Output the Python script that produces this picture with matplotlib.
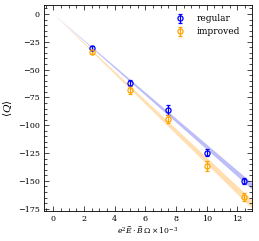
import matplotlib

matplotlib.use('Agg')
import matplotlib.pyplot as plt
import numpy as np
from matplotlib.ticker import MultipleLocator

# --- data ---
x_vals = [2.5, 5.0, 7.5, 10.0, 12.45]

regular_q = [-30.8, -62.1, -86.6, -124.8, -150.2]
regular_err = [1.8, 2.8, 4.5, 3.0, 3.0]

improved_q = [-34.3, -68.1, -94.4, -136.8, -164.6]
improved_err = [2.0, 3.5, 3.5, 4.5, 3.7]

# linear fits through the origin (slope, slope error)
regular_fit = (-11.95, 0.22)
improved_fit = (-13.2, 0.3)

plt.rcParams['font.family'] = ['DejaVu Serif']
plt.rcParams['mathtext.fontset'] = 'dejavuserif'
plt.rcParams['font.size'] = 5.5

fig = plt.figure(figsize=(2.59, 2.41), dpi=100)
ax = fig.add_axes([0.170, 0.125, 0.802, 0.854])

xx = np.linspace(0, 13.2, 50)
for (m, dm), col in [(regular_fit, '#9a9af5'), (improved_fit, '#ffcf88')]:
    ax.fill_between(xx, (m - dm) * xx, (m + dm) * xx, color=col,
                    alpha=0.65, linewidth=0)

ax.errorbar(x_vals, regular_q, yerr=regular_err, fmt='o', color='blue',
            mfc='none', ms=3.7, mew=0.9, elinewidth=0.9, capsize=1.3,
            label='regular', zorder=3)
ax.errorbar(x_vals, improved_q, yerr=improved_err, fmt='o', color='orange',
            mfc='none', ms=3.7, mew=0.9, elinewidth=0.9, capsize=1.3,
            label='improved', zorder=3)

ax.set_xlim(-0.6, 12.93)
ax.set_ylim(-177, 8)
ax.xaxis.set_major_locator(MultipleLocator(2))
ax.xaxis.set_minor_locator(MultipleLocator(0.5))
ax.yaxis.set_major_locator(MultipleLocator(25))
ax.yaxis.set_minor_locator(MultipleLocator(5))
ax.tick_params(which='both', direction='in', top=True, right=True,
               width=0.5, labelsize=5.8, pad=3)
ax.tick_params(which='major', length=3.5)
ax.tick_params(which='minor', length=2)
for s in ax.spines.values():
    s.set_linewidth(0.6)

ax.set_xlabel(r'$e^2\vec{E}\cdot\vec{B}\,\Omega\times10^{-3}$', labelpad=1)
ax.set_ylabel(r'$\langle Q\rangle$', labelpad=3, fontsize=7.5)

ax.legend(loc='upper right', frameon=False, fontsize=6.5, handlelength=1.0,
          handletextpad=1.4, labelspacing=0.45, borderaxespad=0.5,
          bbox_to_anchor=(0.985, 0.995))

fig.savefig('out.png', dpi=100)
